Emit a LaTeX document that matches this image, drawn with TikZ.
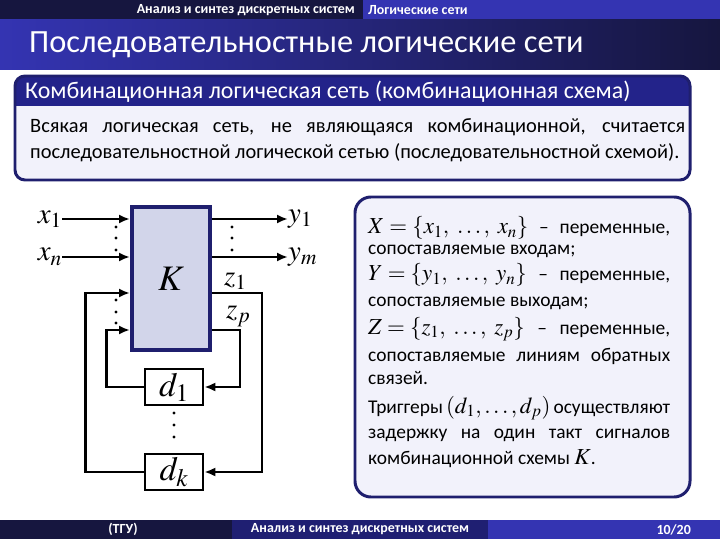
\documentclass[tikz,border=0pt]{standalone}
\usepackage{mathptmx}
\usepackage{fontspec}
\setmainfont{Carlito}
\usepackage{tikz}
\usetikzlibrary{arrows.meta,calc,positioning}

\definecolor{blunotte}{HTML}{16163F}
\definecolor{blumedio}{HTML}{1F1F72}
\definecolor{bluchiaro}{HTML}{3434B2}
\definecolor{bordo}{HTML}{1F1F6E}
\definecolor{intestazione}{HTML}{23238A}
\definecolor{sfondo}{HTML}{F2F2FB}
\definecolor{riempK}{HTML}{D2D5EA}

\tikzset{
  filo/.style={line width=2.6pt},
  testobarra/.style={text=white, font=\bfseries\fontsize{14}{14}\selectfont, inner sep=0pt},
  blocco/.style={draw=bordo, fill=riempK, line width=4pt, minimum width=78bp, minimum height=143bp, inner sep=0pt},
  ritardo/.style={draw, fill=white, line width=2.6pt, minimum width=58bp, minimum height=36bp, inner sep=0pt},
  etichetta/.style={inner sep=0pt, font=\fontsize{29}{29}\selectfont},
  riga/.style={anchor=base west, inner sep=0pt, font=\fontsize{19.5}{22}\selectfont},
  punto/.style={fill=black}
}

\newcommand{\mat}[1]{\mbox{\fontsize{23}{23}\selectfont$#1$}}

\begin{document}
\begin{tikzpicture}[x=1bp, y=-1bp, >={Latex[length=11bp,width=9bp]}]
        \useasboundingbox (0,0) rectangle (720,539);

        % Barra superiore
        \fill[blunotte] (0,0) rectangle (363,20);
        \fill[bluchiaro] (363,0) rectangle (720,20);
        \node[testobarra, anchor=east] (corso) at (355,10) {Анализ и синтез дискретных систем};
        \node[testobarra, anchor=west] (sezione) at (368,10) {Логические сети};

        % Titolo
        \shade[left color=bluchiaro, right color=blunotte] (0,20) rectangle (720,70);
        \node[anchor=west, text=white, inner sep=0pt, font=\fontsize{32.5}{33}\selectfont] (titolo) at (29,45) {Последовательностные логические сети};

        % Blocco con la definizione
        \fill[sfondo, rounded corners=10] (15,76) rectangle (690,180);
        \fill[intestazione] (15,106) {[rounded corners=10] -- (15,76) -- (690,76)} -- (690,106) -- cycle;
        \draw[bordo, line width=3pt, rounded corners=10] (15,76) rectangle (690,180);
        \node[anchor=west, text=white, inner sep=0pt, font=\fontsize{24}{24}\selectfont] (defin) at (25,92) {Комбинационная логическая сеть (комбинационная схема)};
        \node[anchor=north west, inner sep=0pt, text width=655bp, align=justify, font=\fontsize{20.5}{26}\selectfont] (testo) at (30,118)
            {Всякая логическая сеть, не являющаяся комбинационной, считается\linebreak последовательностной логической сетью (последовательностной схемой).};

        % Schema: blocco combinazionale e trigger
        \node[blocco] (K) at (171,278.5) {\fontsize{36}{36}\selectfont$K$};
        \node[ritardo] (d1) at (174,387) {\fontsize{34}{34}\selectfont$d_1$};
        \node[ritardo] (dk) at (174,472) {\fontsize{34}{34}\selectfont$d_k$};

        % Ingressi e uscite
        \node[etichetta, anchor=east] (x1) at (62,219) {$x_1$};
        \node[etichetta, anchor=east] (xn) at (62,257) {$x_n$};
        \node[etichetta, anchor=west] (y1) at (288,219) {$y_1$};
        \node[etichetta, anchor=west] (ym) at (288,257) {$y_m$};
        \draw[filo,->] (x1) -- (x1 -| K.west);
        \draw[filo,->] (xn) -- (xn -| K.west);
        \draw[filo,->] (y1 -| K.east) -- (y1);
        \draw[filo,->] (ym -| K.east) -- (ym);

        % Retroazione
        \coordinate (kz1) at ($(K.east)+(0,14.5)$);
        \coordinate (kzp) at ($(K.east)+(0,51.5)$);
        \coordinate (kf1) at ($(K.west)+(0,14.5)$);
        \coordinate (kf2) at ($(K.west)+(0,51.5)$);
        \node[etichetta, anchor=south west] (z1) at ($(kz1)+(12,-3)$) {$z_1$};
        \node[etichetta, anchor=south west] (zp) at ($(kzp)+(14,-3)$) {$z_p$};
        \draw[filo,->] (kz1) -- ++(50,0) |- (dk.east);
        \draw[filo,->] (kzp) -- ++(28,0) |- (d1.east);
        \draw[filo,->] (d1.west) -- ++(-37,0) |- (kf2);
        \draw[filo,->] (dk.west) -- ++(-58,0) |- (kf1);

        % Puntini
        \foreach \y in {227,238,250} {
            \fill[punto] (116,\y) circle (1.6);
            \fill[punto] (232,\y) circle (1.6);
        }
        \foreach \y in {300,312,323} {
            \fill[punto] (116,\y) circle (1.6);
        }
        \foreach \y in {413,425,437} {
            \fill[punto] (174,\y) circle (1.6);
        }

        % Blocco con le spiegazioni
        \draw[bordo, fill=sfondo, line width=3pt, rounded corners=16] (355,197) rectangle (690,497);
        \node[riga] (r1) at (368,234) {\makebox[302bp][s]{\mat{X=\{x_1,\ \ldots,\ x_n\}} – переменные,}};
        \node[riga] (r2) at (368,255) {сопоставляемые входам;};
        \node[riga] (r3) at (368,281) {\makebox[302bp][s]{\mat{Y=\{y_1,\ \ldots,\ y_n\}} – переменные,}};
        \node[riga] (r4) at (368,306) {сопоставляемые выходам;};
        \node[riga] (r5) at (368,334) {\makebox[302bp][s]{\mat{Z=\{z_1,\ \ldots,\ z_p\}} – переменные,}};
        \node[riga] (r6) at (368,361) {\makebox[302bp][s]{сопоставляемые линиям обратных}};
        \node[riga] (r7) at (368,384) {связей.};
        \node[riga] (r8) at (368,413) {\makebox[302bp][s]{Триггеры \mat{(d_1,\ldots,d_p)} осуществляют}};
        \node[riga] (r9) at (368,438) {\makebox[302bp][s]{задержку на один такт сигналов}};
        \node[riga] (r10) at (368,464) {комбинационной схемы \mat{K}.};

        % Barra inferiore
        \fill[blunotte] (0,520) rectangle (232,539);
        \fill[blumedio] (232,520) rectangle (488,539);
        \fill[bluchiaro] (488,520) rectangle (720,539);
        \node[testobarra] (autore) at (123,529.5) {(ТГУ)};
        \node[testobarra] (corsob) at (360,529.5) {Анализ и синтез дискретных систем};
        \node[testobarra, anchor=east] (pagina) at (691,529.5) {10/20};
\end{tikzpicture}
\end{document}
